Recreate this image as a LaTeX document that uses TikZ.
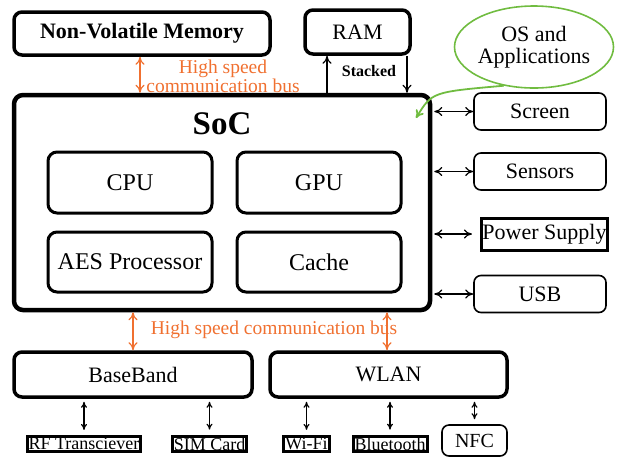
\documentclass[tikz,border=0pt]{standalone}
\usepackage{fontspec}
\setmainfont{Liberation Serif}
\usetikzlibrary{
	arrows.meta,
	positioning,
	shapes.geometric
}
\definecolor{BusOrange}{RGB}{240,112,48}
\definecolor{OsGreen}{RGB}{112,188,64}

\begin{document}
\begin{tikzpicture}[x=1pt, y=-1pt, >={To[length=8pt,width=9pt]},
	bigbox/.style={draw, line width=3.5pt, rounded corners=8pt, inner sep=0pt, font=\fontsize{22}{24}\selectfont},
	unitbox/.style={draw, line width=3pt, rounded corners=9pt, inner sep=0pt, font=\fontsize{24}{26}\selectfont},
	periph/.style={draw, line width=1.6pt, rounded corners=7pt, inner sep=0pt, font=\fontsize{22}{24}\selectfont},
	plainbox/.style={draw, line width=3pt, inner sep=1.5pt, font=\fontsize{18}{20}\selectfont},
	bus/.style={<->, BusOrange, line width=1.2pt},
	link/.style={<->, line width=1.2pt}]
		\useasboundingbox (0,0) rectangle (620,459);
		% 上方存储
		\node[bigbox, font=\fontsize{22}{24}\selectfont\bfseries, minimum width=256pt, minimum height=43pt] (nvm) at (142,33.5) {Non-Volatile Memory};
		\node[bigbox, minimum width=105pt, minimum height=44pt] (ram) at (357.5,32) {RAM};
		\node[ellipse, draw=OsGreen, line width=1.6pt, minimum width=158pt, minimum height=82pt, inner sep=0pt, align=center, font=\fontsize{22}{22}\selectfont] (osapp) at (534,47) {OS and\\Applications};
		% SoC
		\node[draw, line width=4.5pt, rounded corners=9pt, minimum width=416pt, minimum height=215pt] (soc) at (222,202.5) {};
		\node[font=\fontsize{33}{35}\selectfont\bfseries] (soctitle) at (222,124) {SoC};
		\node[unitbox, minimum width=164pt, minimum height=61pt] (cpu) at (130,182.5) {CPU};
		\node[unitbox, minimum width=164pt, minimum height=61pt] (gpu) at (319,182.5) {GPU};
		\node[unitbox, minimum width=164pt, minimum height=60pt] (aes) at (130,262) {AES Processor};
		\node[unitbox, minimum width=164pt, minimum height=60pt] (cache) at (319,262) {Cache};
		% 外设
		\node[periph, minimum width=132pt, minimum height=37pt] (screen) at (540,111.5) {Screen};
		\node[periph, minimum width=132pt, minimum height=37pt] (sensors) at (540,171.5) {Sensors};
		\node[plainbox, font=\fontsize{22}{24}\selectfont, inner sep=1pt, minimum height=32pt] (power) at (544.5,234) {Power Supply};
		\node[periph, minimum width=132pt, minimum height=37pt] (usb) at (540,294) {USB};
		\foreach \p in {screen,sensors,usb}
			\draw[link] (soc.east |- \p.west) ++(2,0) -- (\p.west);
		\draw[link, shorten >=8pt] (soc.east |- power.west) ++(2,0) -- (power.west);
		% 总线
		\draw[bus] (nvm.south -| 140,0) -- (soc.north -| 140,0);
		\node[BusOrange, align=center, font=\fontsize{19.5}{19}\selectfont] (busup) at (223,76) {High speed\\communication bus};
		\draw[->, line width=1.2pt] (soc.north -| 327,0) -- (ram.south -| 327,0);
		\draw[->, line width=1.2pt] (ram.south -| 407,0) -- (soc.north -| 407,0);
		\node[font=\fontsize{16}{18}\selectfont\bfseries] (stacked) at (369,71) {Stacked};
		\draw[->, OsGreen, line width=1.8pt] (osapp.232) .. controls (432,92) .. (416,118);
		% 下方通信
		\node[bigbox, minimum width=238pt, minimum height=45pt] (baseband) at (133,374.5) {BaseBand};
		\node[bigbox, minimum width=237pt, minimum height=45pt] (wlan) at (388.5,374.5) {WLAN};
		\draw[bus] (soc.south -| baseband.north) -- (baseband.north);
		\draw[bus] (soc.south -| 387,0) -- (wlan.north -| 387,0);
		\node[BusOrange, font=\fontsize{19.5}{21}\selectfont] (busdown) at (274,330) {High speed communication bus};
		\node[plainbox] (rf) at (84,444) {RF Transciever};
		\node[plainbox] (sim) at (209.5,444) {SIM Card};
		\node[plainbox] (wifi) at (306.5,444) {Wi-Fi};
		\node[plainbox] (bt) at (390,444) {Bluetooth};
		\node[periph, font=\fontsize{20}{22}\selectfont, minimum width=65pt, minimum height=31pt] (nfc) at (474.5,440.5) {NFC};
		\foreach \u/\d in {baseband/rf,baseband/sim,wlan/wifi,wlan/bt,wlan/nfc}
			\draw[link, >={To[length=6pt,width=6pt]}, shorten <=3pt, shorten >=5pt] (\u.south -| \d.north) -- (\d.north);
	\end{tikzpicture}
\end{document}
